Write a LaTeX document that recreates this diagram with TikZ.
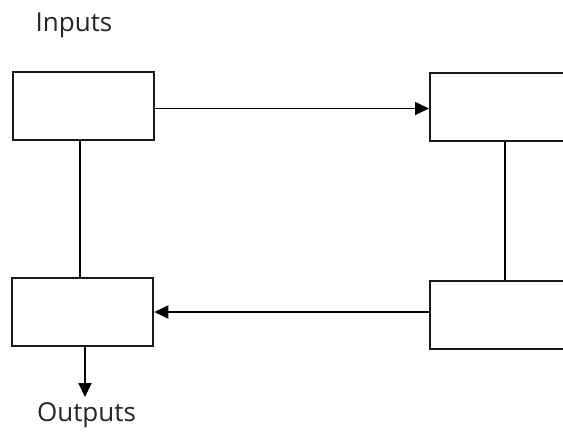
\documentclass[tikz,border=0pt]{standalone}
\usepackage{fontspec}
\setmainfont{Open Sans}
\usetikzlibrary{arrows.meta,calc}
\tikzset{
  blockbox/.style={draw=black!90, line width=2pt, rectangle, inner sep=0pt, fill=white},
  link/.style={draw=black, line width=1.8pt},
  arrowlink/.style={link, -{Triangle[length=14pt,width=13pt]}},
  label/.style={font=\fontsize{26}{30}\selectfont, text=black!85, inner sep=0pt}
}
\begin{document}
\begin{tikzpicture}[x=1pt,y=-1pt]
\clip (0,0) rectangle (563,432);
\fill[white] (0,0) rectangle (563,432);
% boxes
\node[blockbox, minimum width=141pt, minimum height=67.7pt] (tl) at (83.8,106.2) {};
\node[blockbox, minimum width=180pt, minimum height=67.4pt] (tr) at (520,107) {};
\node[blockbox, minimum width=141pt, minimum height=67.4pt] (bl) at (82.8,312) {};
\node[blockbox, minimum width=180pt, minimum height=68.3pt] (br) at (520,314.8) {};
% texts
\node[label, anchor=base] (inputs) at (74,31.7) {Inputs};
\node[label, anchor=north] (outputs) at (86.5,402) {Outputs};
% connectors
\draw[arrowlink] ([yshift=-2.3pt]tl.east) -- ([yshift=-2.3pt]tl.east -| tr.west);
\draw[arrowlink] (bl.east -| br.west) -- (bl.east);
\draw[link] ([xshift=-3.8pt]tl.south) -- ([xshift=-3.8pt]tl.south |- bl.north);
\draw[link] (505,0 |- tr.south) -- (505,0 |- br.north);
\coordinate (outend) at (85,397);
\draw[arrowlink] ([xshift=2.2pt]bl.south) -- (outend);
\end{tikzpicture}
\end{document}
